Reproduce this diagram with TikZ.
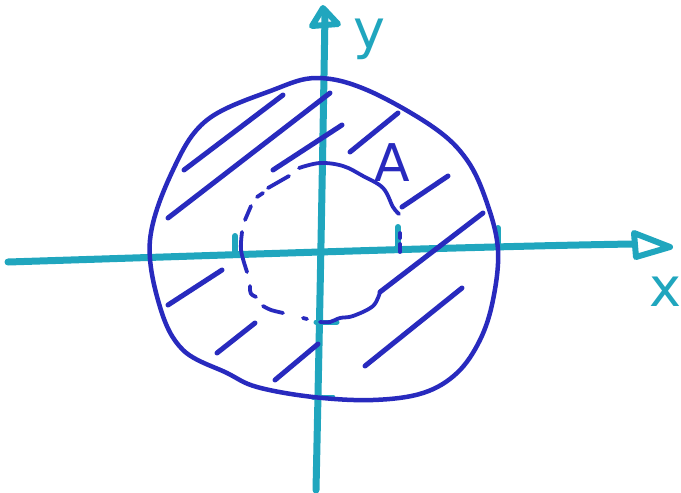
\documentclass[tikz,border=0pt]{standalone}
\usepackage{fontspec}
\setmainfont{DejaVu Sans}
\begin{document}
\begin{tikzpicture}[x=1pt,y=-1pt,line cap=round,line join=round,
  axis/.style={draw=axcol,line width=7pt},
  ink/.style={draw=inkcol,line width=4.5pt},
  hatch/.style={draw=inkcol,line width=5pt},
  inner/.style={draw=inkcol,line width=3.8pt},
  lab/.style={inner sep=0pt,anchor=base,font=\fontsize{54}{54}\selectfont}]
\definecolor{axcol}{RGB}{32,166,190}
\definecolor{inkcol}{RGB}{40,42,190}
\useasboundingbox (0,0) rectangle (681,493);
\fill[white] (0,0) rectangle (681,493);
% axes
\draw[axis] (8,262) .. controls (200,256) and (450,247) .. (632,244);
\draw[axis,line width=6pt] (634,233) -- (670,247) -- (636,257) -- cycle;
\draw[axis] (316,490) .. controls (319,350) and (322,200) .. (325,14);
\draw[axis,line width=6pt] (323,8) -- (338,24) -- (312,26) -- cycle;
% ticks
\draw[axis,line width=6pt] (235,236) -- (235,252);
\draw[axis,line width=6pt] (398,227) -- (398,250);
\draw[axis,line width=6pt] (498,228) -- (498,248);
\draw[axis,line width=5pt] (316,322) -- (337,322);
\draw[axis,line width=5pt] (313,397) -- (333,397);
% outer circle
\draw[ink] plot[smooth cycle,tension=0.6] coordinates {
 (317,78) (367,90) (433,127) (467,160) (487,203) (498,250) (493,300)
 (480,340) (457,373) (423,393) (373,400) (313,397) (257,387) (227,373)
 (183,350) (160,307) (150,240) (173,170) (207,120) (273,90)};
% inner circle: solid parts
\draw[inner] plot[smooth,tension=0.6] coordinates {
 (299,168) (320,163) (343,166) (363,176) (383,188) (393,207) (399,214)};
\draw[inner] plot[smooth,tension=0.6] coordinates {
 (380,292) (373,306) (353,316) (340,318) (330,322) (320,322)};
% inner circle: dashes
\draw[inner] (400,233) -- (400,238);
\draw[inner] (400,244) -- (400,252);
\draw[inner] (303,318) -- (307,319);
\draw[inner] (263,306) .. controls (270,310) .. (283,313);
\draw[inner] (250,286) .. controls (250,294) .. (256,297);
\draw[inner] (242,232) .. controls (240,250) .. (247,272);
\draw[inner] (245,220) -- (251,206);
\draw[inner] (257,197) -- (263,193);
\draw[inner] (268,188) -- (289,176);
% hatching
\draw[hatch] (184,170) -- (283,95);
\draw[hatch] (168,218) -- (330,93);
\draw[hatch] (273,170) -- (342,125);
\draw[hatch] (350,152) -- (398,113);
\draw[hatch] (402,207) -- (448,176);
\draw[hatch] (380,292) -- (483,213);
\draw[hatch] (168,305) -- (222,270);
\draw[hatch] (217,353) -- (255,323);
\draw[hatch] (275,380) -- (318,344);
\draw[hatch] (365,366) -- (462,288);
% labels
\node[lab,text=axcol] (ylab) at (369,48) {y};
\node[lab,text=axcol] (xlab) at (665,306) {x};
\node[lab,text=inkcol,font=\fontsize{52}{52}\selectfont] (alab) at (392,181) {A};
\end{tikzpicture}
\end{document}
